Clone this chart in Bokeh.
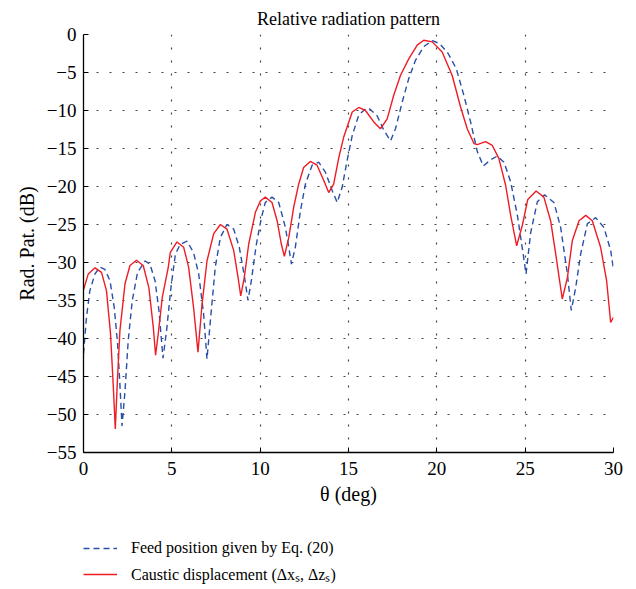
from bokeh.plotting import figure
from bokeh.models import Range1d, FixedTicker, Legend, LegendItem
from bokeh.layouts import column
from bokeh.embed import file_html
from bokeh.resources import INLINE

# Feed position given by Eq. (20)  (blue dashed)
feed_theta = [0.00, 0.17, 0.36, 0.65, 0.93, 1.21, 1.50, 1.74, 1.93, 2.06, 2.18, 2.35, 2.53, 2.76,
              3.06, 3.48, 3.76, 4.05, 4.27, 4.50, 4.70, 4.95, 5.20, 5.48, 5.86, 6.23, 6.52, 6.80,
              6.99, 7.18, 7.46, 7.75, 8.12, 8.50, 8.82, 9.12, 9.31, 9.50, 9.77, 10.06, 10.29, 10.67,
              11.05, 11.43, 11.62, 11.77, 11.99, 12.28, 12.56, 12.94, 13.31, 13.69, 14.07, 14.36,
              14.64, 14.92, 15.21, 15.58, 15.96, 16.15, 16.62, 17.00, 17.38, 17.66, 18.04, 18.41,
              18.79, 19.26, 19.74, 20.16, 20.64, 21.10, 21.53, 21.91, 22.29, 22.63, 23.04, 23.42,
              23.80, 24.18, 24.56, 24.90, 25.05, 25.31, 25.69, 26.10, 26.63, 27.01, 27.39, 27.61,
              27.86, 28.14, 28.52, 28.99, 29.46, 29.84, 30.00]
feed_db = [-42.0, -37.2, -33.7, -31.5, -30.6, -30.9, -32.4, -35.9, -40.7, -46.0, -51.5, -46.9, -40.3,
           -35.0, -31.3, -29.8, -30.2, -32.4, -36.3, -42.6, -39.0, -33.3, -28.9, -27.6, -27.2, -28.7,
           -31.5, -36.8, -42.7, -37.7, -30.6, -26.7, -25.0, -25.6, -28.0, -32.0, -35.0, -32.4, -27.8,
           -24.2, -22.1, -21.4, -22.1, -25.4, -28.0, -30.2, -28.0, -23.2, -19.7, -17.2, -16.8, -18.1,
           -20.5, -22.1, -20.1, -16.6, -13.3, -10.6, -9.8, -9.7, -10.7, -12.6, -14.0, -12.4, -8.9,
           -5.8, -3.4, -1.6, -0.8, -1.2, -2.5, -4.5, -8.0, -11.5, -15.4, -17.3, -16.5, -16.0, -16.8,
           -19.4, -23.8, -29.1, -31.5, -26.1, -22.0, -21.1, -22.1, -25.4, -31.5, -36.3, -33.3, -28.9,
           -24.9, -24.1, -25.4, -28.4, -30.9]

# Caustic displacement (red solid)
caustic_theta = [0.00, 0.27, 0.65, 1.02, 1.30, 1.53, 1.68, 1.80, 1.91, 2.06, 2.35, 2.63, 3.00, 3.38,
                 3.70, 3.95, 4.08, 4.23, 4.46, 4.80, 4.91, 5.29, 5.67, 5.95, 6.23, 6.48, 6.71, 6.99,
                 7.37, 7.75, 8.12, 8.50, 8.75, 8.90, 9.10, 9.35, 9.73, 10.01, 10.29, 10.67, 10.96,
                 11.20, 11.37, 11.62, 11.90, 12.18, 12.46, 12.84, 13.22, 13.60, 13.88, 14.16, 14.45,
                 14.73, 15.11, 15.21, 15.58, 15.96, 16.43, 16.81, 17.19, 17.56, 17.94, 18.41, 18.89,
                 19.26, 19.74, 20.30, 20.87, 21.34, 21.72, 22.10, 22.29, 22.76, 23.14, 23.51, 23.89,
                 24.18, 24.52, 24.84, 25.15, 25.62, 26.06, 26.44, 26.73, 27.10, 27.39, 27.67, 28.05,
                 28.43, 28.80, 29.27, 29.61, 29.84, 30.00]
caustic_db = [-33.6, -31.5, -30.7, -31.3, -33.7, -39.4, -46.0, -51.9, -46.0, -39.0, -32.8, -30.4, -29.7,
              -30.4, -33.3, -38.5, -42.2, -39.4, -34.6, -30.6, -28.7, -27.3, -28.0, -30.6, -35.9, -41.8,
              -35.5, -29.8, -26.2, -25.0, -25.6, -28.4, -32.0, -34.4, -32.0, -27.6, -23.4, -21.9, -21.4,
              -22.1, -24.5, -27.6, -29.2, -26.7, -22.7, -19.7, -17.5, -16.7, -17.2, -19.2, -20.8, -19.7,
              -16.2, -13.5, -10.9, -10.2, -9.6, -10.0, -11.5, -12.4, -11.1, -8.0, -5.4, -3.2, -1.4,
              -0.75, -0.97, -2.3, -5.4, -9.5, -12.4, -14.35, -14.5, -14.1, -14.6, -16.3, -19.8, -23.8,
              -27.8, -25.1, -21.7, -20.6, -21.4, -24.5, -28.9, -34.8, -32.0, -27.1, -24.5, -23.8, -24.5,
              -28.0, -32.4, -37.9, -37.2]

x_ticks = [0, 5, 10, 15, 20, 25, 30]
y_ticks = [-55, -50, -45, -40, -35, -30, -25, -20, -15, -10, -5, 0]

title_text = "Relative radiation pattern"
x_label = "θ (deg)"
y_label = "Rad. Pat. (dB)"
feed_label = "Feed position given by Eq. (20)"
caustic_label = "Caustic displacement (Δxₛ, Δzₛ)"

SERIF = "Liberation Serif"
FEED_STYLE = dict(line_color="#2a4fa8", line_width=1.4, line_dash="6 4")
CAUS_STYLE = dict(line_color="#ee1c24", line_width=1.4)

p = figure(width=636, height=510, x_range=Range1d(0, 30), y_range=Range1d(-55, 0),
           output_backend="svg", toolbar_location=None,
           min_border_left=83, min_border_right=23, min_border_top=34, min_border_bottom=58)

p.title.text = title_text
p.title.align = "center"
p.title.text_font = SERIF
p.title.text_font_style = "normal"
p.title.text_font_size = "18px"
p.title.text_color = "black"
p.title.standoff = 11

p.outline_line_color = None
p.background_fill_color = "white"
p.border_fill_color = "white"

for ax, ticks in ((p.xaxis[0], x_ticks), (p.yaxis[0], y_ticks)):
    ax.ticker = FixedTicker(ticks=ticks)
    ax.major_tick_in = 5
    ax.major_tick_out = 0
    ax.minor_tick_line_color = None
    ax.axis_line_color = "black"
    ax.axis_line_width = 1.3
    ax.major_tick_line_color = "black"
    ax.major_label_text_font = SERIF
    ax.major_label_text_font_size = "19px"
    ax.major_label_text_color = "black"
    ax.axis_label_text_font = SERIF
    ax.axis_label_text_font_size = "20px"
    ax.axis_label_text_font_style = "normal"
    ax.axis_label_text_color = "black"

p.yaxis[0].major_label_overrides = {t: (str(t).replace("-", "−")) for t in y_ticks}
p.xaxis[0].axis_label = x_label
p.yaxis[0].axis_label = y_label
p.xaxis[0].major_label_standoff = 9
p.xaxis[0].axis_label_standoff = 5
p.yaxis[0].major_label_standoff = 7
p.yaxis[0].axis_label_standoff = 6

p.xgrid.ticker = FixedTicker(ticks=x_ticks)
p.ygrid.ticker = FixedTicker(ticks=y_ticks)
for g in (p.xgrid[0], p.ygrid[0]):
    g.grid_line_color = "#444444"
    g.grid_line_dash = "2 11"
    g.grid_line_width = 1.2

p.line(feed_theta, feed_db, **FEED_STYLE)
p.line(caustic_theta, caustic_db, **CAUS_STYLE)

# legend strip below the plot (its proxy lines fall outside its empty frame)
q = figure(width=636, height=79, x_range=Range1d(0, 30), y_range=Range1d(1, 2),
           output_backend="svg", toolbar_location=None,
           x_axis_type=None, y_axis_type=None,
           min_border_left=83, min_border_right=0, min_border_top=28, min_border_bottom=0)
q.outline_line_color = None
q.xgrid.visible = False
q.ygrid.visible = False
q.background_fill_color = "white"
q.border_fill_color = "white"
k_feed = q.line(feed_theta, feed_db, **FEED_STYLE)
k_caus = q.line(caustic_theta, caustic_db, **CAUS_STYLE)

legend = Legend(items=[LegendItem(label=feed_label, renderers=[k_feed]),
                       LegendItem(label=caustic_label, renderers=[k_caus])],
                location="top_left", orientation="vertical",
                border_line_color=None, background_fill_alpha=0,
                label_text_font=SERIF, label_text_font_size="16px", label_text_color="black",
                glyph_width=34, glyph_height=20, label_standoff=14,
                spacing=5, padding=0, margin=0)
q.add_layout(legend, "center")

layout = column(p, q, spacing=0)
open("out.html", "w").write(file_html(layout, INLINE))
